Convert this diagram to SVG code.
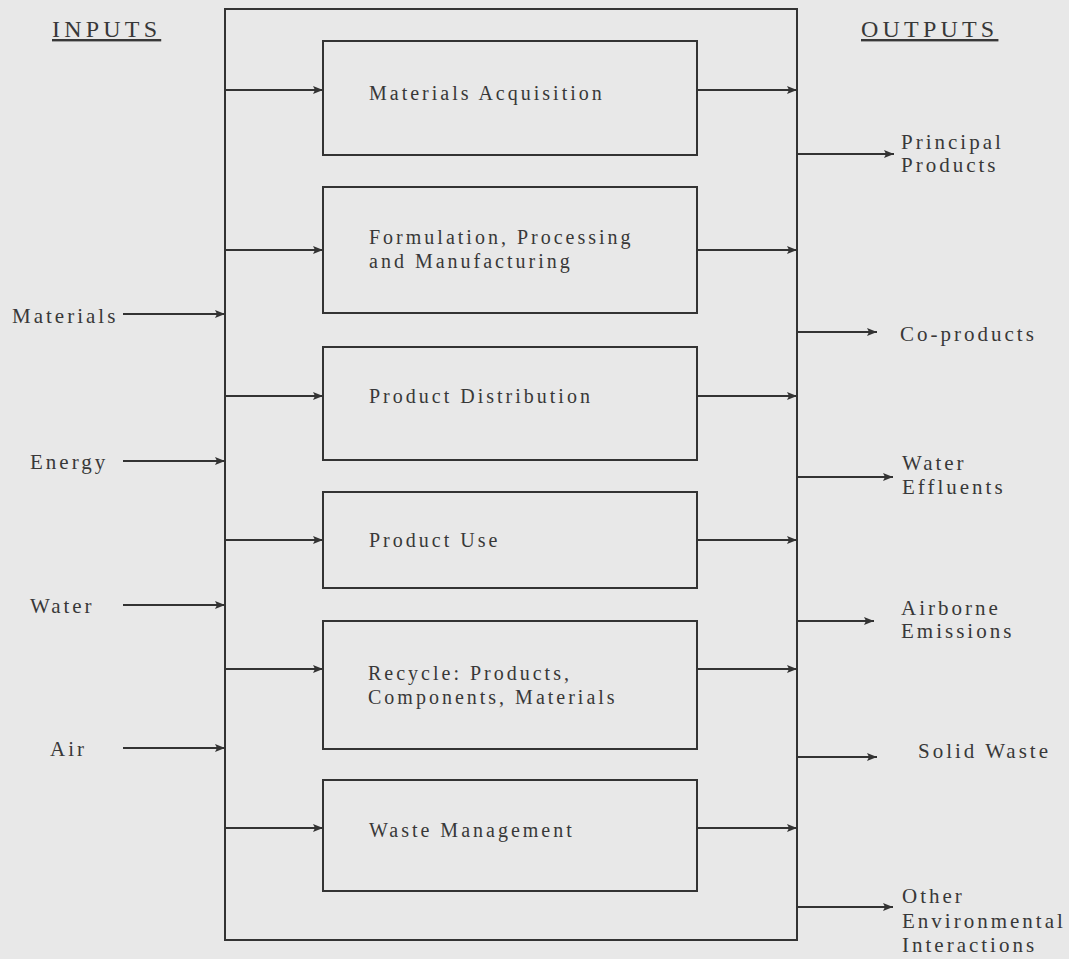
<svg xmlns="http://www.w3.org/2000/svg" width="1069" height="959" viewBox="0 0 1069 959">
<defs>
<marker id="ah" markerWidth="10" markerHeight="8" refX="10" refY="4" orient="auto" markerUnits="userSpaceOnUse">
<path d="M0,0 L10,4 L0,8 L2,4 Z" fill="#333"/>
</marker>
</defs>
<style>
text{font-family:"Liberation Serif","Times New Roman",serif;fill:#383838;font-size:21px;letter-spacing:3px}
.b{font-size:20px;letter-spacing:3px}
.h{font-size:24px;letter-spacing:4.2px;text-decoration:underline}
.box{fill:none;stroke:#333;stroke-width:2}
.c line{stroke:#333;stroke-width:1.8}
.c .a{marker-end:url(#ah)}
</style>
<rect width="1069" height="959" fill="#e8e8e8"/>
<g id="outer"><rect class="box" x="225" y="9" width="572" height="931"/></g>
<g id="headers">
<text class="h" x="52" y="37">INPUTS</text>
<text class="h" x="861" y="37">OUTPUTS</text>
</g>
<g id="n1"><rect class="box" x="323" y="41" width="374" height="114"/><text class="b" x="369" y="100">Materials Acquisition</text></g>
<g id="n2"><rect class="box" x="323" y="187" width="374" height="126"/><text class="b" x="369" y="244">Formulation, Processing</text><text class="b" x="369" y="268">and Manufacturing</text></g>
<g id="n3"><rect class="box" x="323" y="347" width="374" height="113"/><text class="b" x="369" y="403">Product Distribution</text></g>
<g id="n4"><rect class="box" x="323" y="492" width="374" height="96"/><text class="b" x="369" y="547">Product Use</text></g>
<g id="n5"><rect class="box" x="323" y="621" width="374" height="128"/><text class="b" x="368" y="680">Recycle: Products,</text><text class="b" x="368" y="704">Components, Materials</text></g>
<g id="n6"><rect class="box" x="323" y="780" width="374" height="111"/><text class="b" x="369" y="837">Waste Management</text></g>
<g id="inputs">
<text x="12" y="323">Materials</text>
<text x="30" y="469">Energy</text>
<text x="30" y="613">Water</text>
<text x="50" y="756">Air</text>
</g>
<g id="outputs">
<text x="901" y="149">Principal</text><text x="901" y="172">Products</text>
<text x="900" y="341">Co-products</text>
<text x="902" y="470">Water</text><text x="902" y="494">Effluents</text>
<text x="901" y="615">Airborne</text><text x="901" y="638">Emissions</text>
<text x="918" y="758">Solid Waste</text>
<text x="902" y="903">Other</text><text x="902" y="928">Environmental</text><text x="902" y="952">Interactions</text>
</g>
<g id="connectors" class="c">
<line class="a" x1="123" y1="314" x2="225" y2="314"/>
<line class="a" x1="123" y1="461" x2="225" y2="461"/>
<line class="a" x1="123" y1="605" x2="225" y2="605"/>
<line class="a" x1="123" y1="748" x2="225" y2="748"/>
<line class="a" x1="225" y1="90" x2="323" y2="90"/>
<line class="a" x1="225" y1="250" x2="323" y2="250"/>
<line class="a" x1="225" y1="396" x2="323" y2="396"/>
<line class="a" x1="225" y1="540" x2="323" y2="540"/>
<line class="a" x1="225" y1="669" x2="323" y2="669"/>
<line class="a" x1="225" y1="828" x2="323" y2="828"/>
<line class="a" x1="697" y1="90" x2="797" y2="90"/>
<line class="a" x1="697" y1="250" x2="797" y2="250"/>
<line class="a" x1="697" y1="396" x2="797" y2="396"/>
<line class="a" x1="697" y1="540" x2="797" y2="540"/>
<line class="a" x1="697" y1="669" x2="797" y2="669"/>
<line class="a" x1="697" y1="828" x2="797" y2="828"/>
<line class="a" x1="797" y1="154" x2="894" y2="154"/>
<line class="a" x1="797" y1="332" x2="877" y2="332"/>
<line class="a" x1="797" y1="477" x2="893" y2="477"/>
<line class="a" x1="797" y1="621" x2="874" y2="621"/>
<line class="a" x1="797" y1="757" x2="877" y2="757"/>
<line class="a" x1="797" y1="907" x2="893" y2="907"/>
</g>
</svg>
